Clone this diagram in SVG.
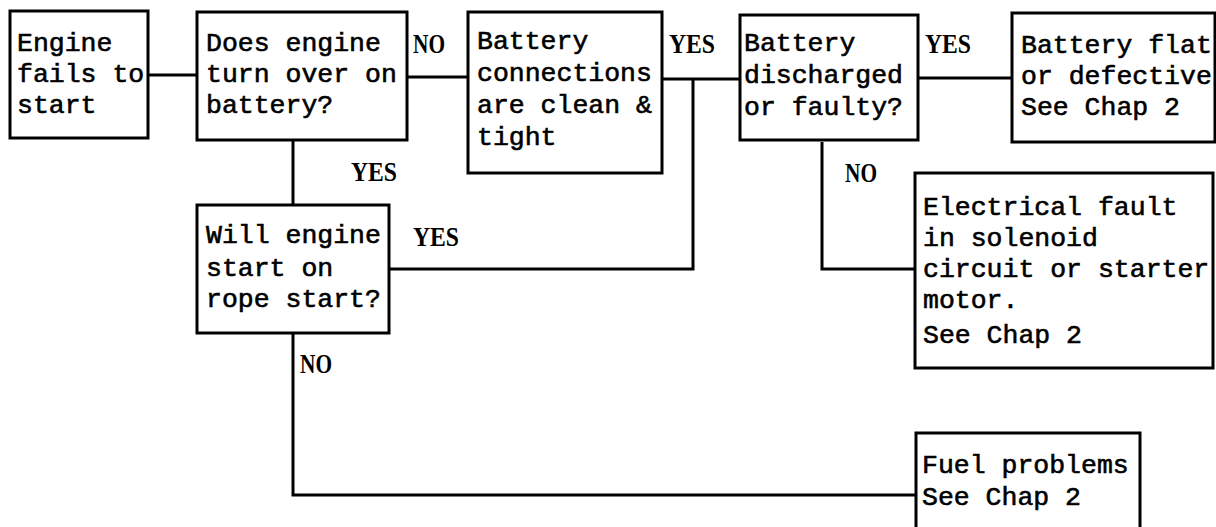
<svg xmlns="http://www.w3.org/2000/svg" width="1216" height="527" viewBox="0 0 1216 527">
<style>
.box{fill:#fff;stroke:#000;stroke-width:3}
.t{font-family:"Liberation Mono","DejaVu Sans Mono",monospace;font-size:26.5px;fill:#000;stroke:#000;stroke-width:0.6}
.lbl{font-family:"Liberation Serif","Times New Roman",serif;font-size:27px;font-weight:bold;fill:#000}
.c{fill:none;stroke:#000;stroke-width:3}
</style>
<rect width="1216" height="527" fill="#fff"/>
<g id="connectors">
<path class="c" d="M148 75H197"/>
<path class="c" d="M407 77H467"/>
<path class="c" d="M662 79H740"/>
<path class="c" d="M693 79V269H389"/>
<path class="c" d="M918 78H1012"/>
<path class="c" d="M293 140V205"/>
<path class="c" d="M822 142V269H915"/>
<path class="c" d="M293 333V495H916"/>
</g>
<g id="labels">
<text class="lbl" x="413" y="53" textLength="32" lengthAdjust="spacingAndGlyphs">NO</text>
<text class="lbl" x="669" y="53" textLength="46" lengthAdjust="spacingAndGlyphs">YES</text>
<text class="lbl" x="925" y="53" textLength="46" lengthAdjust="spacingAndGlyphs">YES</text>
<text class="lbl" x="351" y="181" textLength="46" lengthAdjust="spacingAndGlyphs">YES</text>
<text class="lbl" x="413" y="246" textLength="46" lengthAdjust="spacingAndGlyphs">YES</text>
<text class="lbl" x="845" y="182" textLength="32" lengthAdjust="spacingAndGlyphs">NO</text>
<text class="lbl" x="300" y="373" textLength="32" lengthAdjust="spacingAndGlyphs">NO</text>
</g>
<g id="n1">
<rect class="box" x="10" y="11" width="138" height="127"/>
<text class="t" x="17" y="51">Engine</text>
<text class="t" x="17" y="82">fails to</text>
<text class="t" x="17" y="113">start</text>
</g>
<g id="n2">
<rect class="box" x="197" y="12" width="210" height="128"/>
<text class="t" x="206" y="51">Does engine</text>
<text class="t" x="206" y="82">turn over on</text>
<text class="t" x="206" y="113">battery?</text>
</g>
<g id="n3">
<rect class="box" x="468" y="12" width="194" height="161"/>
<text class="t" x="477" y="49">Battery</text>
<text class="t" x="477" y="81">connections</text>
<text class="t" x="477" y="113">are clean &amp;</text>
<text class="t" x="477" y="145">tight</text>
</g>
<g id="n4">
<rect class="box" x="740" y="15" width="178" height="125"/>
<text class="t" x="744" y="51">Battery</text>
<text class="t" x="744" y="83">discharged</text>
<text class="t" x="744" y="115">or faulty?</text>
</g>
<g id="n5">
<rect class="box" x="1012" y="13" width="203" height="129"/>
<text class="t" x="1021" y="53">Battery flat</text>
<text class="t" x="1021" y="84">or defective</text>
<text class="t" x="1021" y="115">See Chap 2</text>
</g>
<g id="n6">
<rect class="box" x="197" y="205" width="192" height="128"/>
<text class="t" x="206" y="243">Will engine</text>
<text class="t" x="206" y="276">start on</text>
<text class="t" x="206" y="307">rope start?</text>
</g>
<g id="n7">
<rect class="box" x="915" y="173" width="298" height="195"/>
<text class="t" x="923" y="215">Electrical fault</text>
<text class="t" x="923" y="246">in solenoid</text>
<text class="t" x="923" y="277">circuit or starter</text>
<text class="t" x="923" y="308">motor.</text>
<text class="t" x="923" y="343">See Chap 2</text>
</g>
<g id="n8">
<rect class="box" x="916" y="433" width="224" height="110"/>
<text class="t" x="922" y="473">Fuel problems</text>
<text class="t" x="922" y="505">See Chap 2</text>
</g>
</svg>
